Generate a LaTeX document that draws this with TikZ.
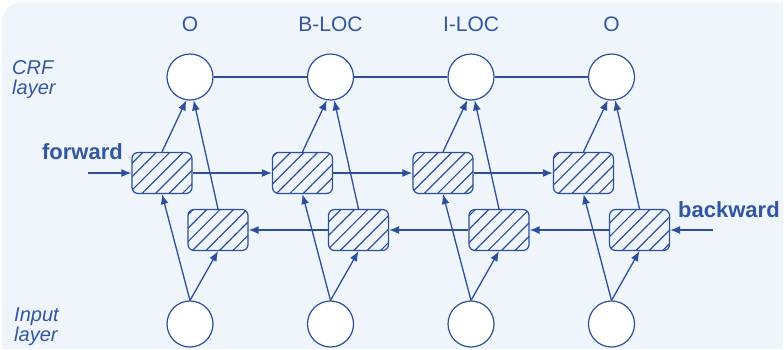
\documentclass[tikz,border=0pt]{standalone}
\usepackage{fontspec}
\setmainfont{Liberation Sans}
\usetikzlibrary{arrows.meta,patterns.meta}

\definecolor{netblue}{RGB}{44,78,156}
\definecolor{txtblue}{RGB}{50,86,162}
\definecolor{panel}{RGB}{240,245,251}

\begin{document}
\begin{tikzpicture}[x=1pt, y=-1pt,
  unit/.style={circle, draw=netblue, line width=1.2pt, fill=white, minimum size=46pt, inner sep=0pt},
  cell/.style={rounded corners=6pt, draw=netblue, line width=1.2pt, minimum width=60pt, minimum height=41pt, inner sep=0pt,
    pattern={Lines[angle=45, distance=9.5pt, line width=1.2pt]}, pattern color=netblue},
  link/.style={netblue, line width=1.3pt, -{Latex[length=10pt, width=8pt]}},
  tag/.style={txtblue, font=\fontsize{21}{24}\selectfont},
  side/.style={txtblue, font=\fontsize{20}{20}\selectfont\itshape, align=left, anchor=west, inner sep=0pt},
  dir/.style={txtblue, font=\fontsize{22}{24}\selectfont\bfseries, inner sep=0pt}]
  \useasboundingbox (0,0) rectangle (784,349);
  \fill[panel] (2,349) [rounded corners=20pt] -- (2,2) [sharp corners] -- (783,2) -- (783,349) -- cycle;

  % one column per token: tag, CRF unit, two LSTM cells, input unit
  \foreach \i/\lab in {1/O, 2/B-LOC, 3/I-LOC, 4/O} {
    \pgfmathsetmacro\cx{190+140.5*(\i-1)}
    \node[tag] (lab\i) at (\cx,24.5) {\lab};
    \node[unit] (crf\i) at (\cx,77) {};
    \node[unit] (in\i) at (\cx,324) {};
    \node[cell] (fw\i) at (\cx-28,173) {};
    \node[cell] (bw\i) at (\cx+28,230) {};
    \draw[link] (in\i.north) -- (fw\i.south);
    \draw[link] (in\i.north) -- (bw\i.south);
    \draw[link] (fw\i.north) -- (crf\i.-99);
    \draw[link] (bw\i.north) -- (crf\i.-81);
  }

  \draw[netblue, line width=1.3pt] (crf1) -- (crf2) -- (crf3) -- (crf4);
  \foreach \i/\j in {1/2, 2/3, 3/4} {
    \draw[link] (fw\i.east) -- (fw\j.west);
    \draw[link] (bw\j.west) -- (bw\i.east);
  }

  \coordinate (fwin) at (88,173);
  \coordinate (bwin) at (713,230);
  \draw[link] (fwin) -- (fw1.west);
  \draw[link] (bwin) -- (bw4.east);

  \node[dir, anchor=base east] (fwtxt) at (123,159) {forward};
  \node[dir, anchor=base west] (bwtxt) at (678,217) {backward};
  \node[side] (crftxt) at (12,80) {CRF\\layer};
  \node[side] (intxt) at (14,327) {Input\\layer};
\end{tikzpicture}
\end{document}
